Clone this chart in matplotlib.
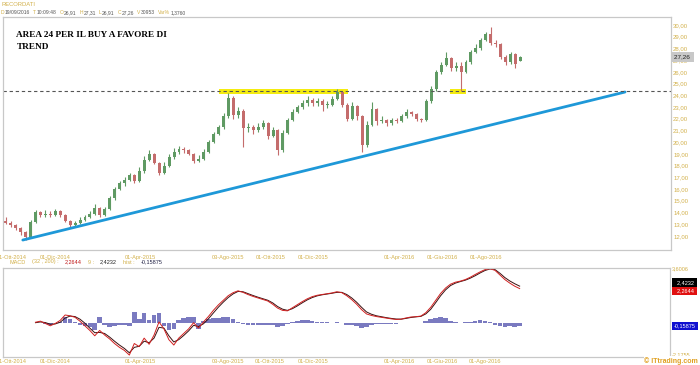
import matplotlib
matplotlib.use("Agg")
import matplotlib.pyplot as plt
import matplotlib.dates as mdates
import matplotlib.transforms as mtransforms
from matplotlib.patches import Rectangle
import numpy as np
import pandas as pd

# weekly candles, Recordati, Sep 2014 - Sep 2016
dates = pd.date_range("2014-09-22", periods=105, freq="W-MON")

opens = [13.3, 13.1, 12.9, 12.7, 12.3, 11.9, 13.2, 14.0, 13.8, 13.9,
         13.8, 14.1, 13.8, 13.3, 12.9, 13.1, 13.4, 13.6, 13.9, 14.4,
         13.8, 14.3, 15.2, 16.0, 16.5, 16.8, 17.2, 16.7, 17.5, 18.5,
         19.0, 18.2, 17.4, 18.0, 18.7, 19.2, 19.4, 19.3, 19.0, 18.4,
         18.6, 19.2, 20.0, 20.7, 21.3, 22.2, 23.8, 22.3, 22.7, 21.2,
         21.3, 21.0, 21.3, 21.6, 20.5, 21.0, 19.3, 20.8, 21.9, 22.6,
         23.0, 23.3, 23.6, 23.3, 23.5, 23.2, 23.2, 23.7, 24.3, 23.2,
         22.0, 23.1, 22.2, 19.8, 21.5, 22.8, 21.8, 21.9, 21.6, 21.9,
         21.8, 22.2, 22.6, 22.4, 22.0, 21.9, 23.5, 24.5, 26.0, 26.6,
         27.2, 26.3, 26.5, 26.0, 26.8, 27.7, 28.0, 28.7, 29.2, 28.5,
         28.4, 27.3, 26.8, 27.5, 26.91]
highs = [13.6, 13.3, 13.0, 12.8, 12.4, 13.4, 14.2, 14.1, 14.2, 14.1,
         14.3, 14.2, 13.9, 13.4, 13.3, 13.6, 13.8, 14.1, 14.7, 14.5,
         14.5, 15.4, 16.2, 16.7, 17.0, 17.4, 17.3, 17.9, 18.8, 19.3,
         19.1, 18.3, 18.3, 19.0, 19.5, 19.7, 19.6, 19.4, 19.1, 18.9,
         19.4, 20.2, 20.9, 21.5, 22.5, 24.2, 23.9, 23.0, 22.8, 21.6,
         21.5, 21.6, 21.9, 21.7, 21.3, 21.1, 21.0, 22.1, 22.8, 23.2,
         23.6, 23.9, 23.8, 23.8, 23.7, 23.5, 23.9, 24.55, 24.3, 23.3,
         23.4, 23.2, 22.3, 21.8, 23.4, 22.9, 22.2, 22.0, 22.1, 22.1,
         22.4, 22.8, 22.7, 22.5, 22.1, 23.7, 24.8, 26.2, 26.8, 27.7,
         27.3, 26.8, 26.8, 27.0, 27.9, 28.4, 28.9, 29.4, 29.8, 28.7,
         28.5, 27.4, 27.7, 27.6, 27.31]
lows = [13.0, 12.8, 12.5, 12.1, 11.65, 11.8, 13.1, 13.6, 13.6, 13.6,
        13.7, 13.6, 13.2, 12.8, 12.8, 13.0, 13.3, 13.5, 13.8, 13.6,
        13.7, 14.2, 15.1, 15.9, 16.3, 16.7, 16.5, 16.6, 17.4, 18.4,
        18.1, 17.2, 17.3, 17.9, 18.6, 19.0, 19.1, 18.9, 18.2, 18.3,
        18.5, 19.1, 19.9, 20.6, 21.1, 22.1, 22.0, 22.1, 19.6, 20.9,
        20.7, 20.9, 21.1, 20.3, 20.4, 18.9, 19.2, 20.7, 21.8, 22.5,
        22.8, 23.1, 23.1, 23.1, 22.7, 22.9, 23.1, 23.6, 23.0, 21.8,
        21.9, 21.9, 19.2, 19.6, 21.4, 21.5, 21.6, 21.4, 21.5, 21.6,
        21.7, 22.1, 22.2, 21.8, 21.7, 21.8, 23.3, 24.4, 25.8, 26.5,
        26.1, 26.1, 24.4, 25.9, 26.7, 27.6, 27.9, 28.6, 28.3, 28.1,
        27.1, 26.6, 26.7, 26.3, 26.91]
closes = [13.1, 12.9, 12.7, 12.3, 11.9, 13.2, 14.0, 13.8, 13.9, 13.8,
          14.1, 13.8, 13.3, 12.9, 13.1, 13.4, 13.6, 13.9, 14.4, 13.8,
          14.3, 15.2, 16.0, 16.5, 16.8, 17.2, 16.7, 17.5, 18.5, 19.0,
          18.2, 17.4, 18.0, 18.7, 19.2, 19.4, 19.3, 19.0, 18.4, 18.6,
          19.2, 20.0, 20.7, 21.3, 22.2, 23.8, 22.3, 22.7, 21.2, 21.3,
          21.0, 21.3, 21.6, 20.5, 21.0, 19.3, 20.8, 21.9, 22.6, 23.0,
          23.3, 23.6, 23.3, 23.5, 23.2, 23.2, 23.7, 24.3, 23.2, 22.0,
          23.1, 22.2, 19.8, 21.5, 22.8, 21.8, 21.9, 21.6, 21.9, 21.8,
          22.2, 22.6, 22.4, 22.0, 21.9, 23.5, 24.5, 26.0, 26.6, 27.2,
          26.3, 26.5, 26.0, 26.8, 27.7, 28.0, 28.7, 29.2, 28.5, 28.4,
          27.3, 26.8, 27.5, 26.7, 27.26]

nan = np.nan
macd = [nan, nan, nan, nan, nan, nan, 0.08, 0.15, 0.0, -0.15,
        0.0, 0.2, 0.55, 0.50, 0.40, 0.15, -0.15, -0.45, -0.80, -0.45,
        -0.75, -1.00, -1.30, -1.55, -1.75, -2.05, -1.30, -1.50, -0.95, -1.35,
        -0.75, 0.10, -0.35, -1.05, -1.40, -0.95, -0.65, -0.35, 0.05, -0.30,
        0.10, 0.45, 0.85, 1.20, 1.50, 1.80, 2.00, 2.12, 2.02, 1.88,
        1.76, 1.66, 1.56, 1.46, 1.25, 1.00, 0.85, 0.82, 1.02, 1.22,
        1.42, 1.60, 1.74, 1.83, 1.88, 1.93, 1.98, 2.06, 2.00, 1.80,
        1.55, 1.25, 0.90, 0.62, 0.52, 0.45, 0.40, 0.35, 0.30, 0.26,
        0.28, 0.36, 0.42, 0.44, 0.48, 0.70, 1.05, 1.50, 1.95, 2.30,
        2.55, 2.68, 2.75, 2.85, 3.00, 3.18, 3.35, 3.50, 3.55, 3.45,
        3.15, 2.85, 2.62, 2.42, 2.2644]
signal = [nan, nan, nan, nan, nan, nan, 0.05, 0.10, 0.06, -0.05,
          -0.03, 0.08, 0.35, 0.48, 0.45, 0.28, 0.02, -0.30, -0.60, -0.58,
          -0.65, -0.88, -1.15, -1.40, -1.62, -1.90, -1.55, -1.48, -1.15, -1.25,
          -0.95, -0.25, -0.30, -0.80, -1.20, -1.05, -0.78, -0.48, -0.12, -0.20,
          -0.02, 0.30, 0.68, 1.05, 1.38, 1.68, 1.92, 2.08, 2.06, 1.94,
          1.82, 1.71, 1.61, 1.51, 1.34, 1.10, 0.93, 0.85, 0.96, 1.14,
          1.34, 1.53, 1.68, 1.79, 1.86, 1.91, 1.96, 2.02, 2.02, 1.88,
          1.66, 1.38, 1.05, 0.75, 0.60, 0.50, 0.44, 0.38, 0.33, 0.29,
          0.28, 0.33, 0.39, 0.43, 0.46, 0.62, 0.92, 1.35, 1.80, 2.18,
          2.46, 2.62, 2.72, 2.81, 2.94, 3.10, 3.28, 3.44, 3.54, 3.50,
          3.26, 2.98, 2.76, 2.58, 2.4232]
hist = [nan, nan, nan, nan, nan, nan, 0.03, 0.05, -0.06, -0.10,
        0.03, 0.12, 0.40, 0.30, 0.10, -0.12, -0.18, -0.25, -0.40, 0.40,
        -0.10, -0.20, -0.15, -0.12, -0.10, -0.15, 0.75, 0.30, 0.70, 0.25,
        0.55, 0.65, -0.15, -0.40, -0.35, 0.20, 0.35, 0.40, 0.45, -0.35,
        0.15, 0.30, 0.35, 0.38, 0.40, 0.42, 0.30, 0.12, -0.05, -0.08,
        -0.10, -0.08, -0.08, -0.10, -0.12, -0.22, -0.18, -0.05, 0.10, 0.18,
        0.22, 0.20, 0.15, 0.12, 0.08, 0.07, 0.06, 0.08, 0.02, -0.08,
        -0.12, -0.18, -0.30, -0.22, -0.10, -0.06, -0.05, -0.04, -0.05, -0.04,
        0.02, 0.04, 0.05, 0.03, 0.04, 0.15, 0.28, 0.38, 0.44, 0.36,
        0.18, 0.08, 0.06, 0.08, 0.12, 0.18, 0.20, 0.18, 0.08, -0.08,
        -0.18, -0.20, -0.18, -0.20, -0.15875]

tick_dates = ["2014-10-01", "2014-12-01", "2015-04-01", "2015-08-03", "2015-10-01",
              "2015-12-01", "2016-04-01", "2016-06-01", "2016-08-01"]
tick_labels = ["01-Ott-2014", "01-Dic-2014", "01-Apr-2015", "03-Ago-2015", "01-Ott-2015",
               "01-Dic-2015", "01-Apr-2016", "01-Giu-2016", "01-Ago-2016"]
price_ticks = list(range(12, 31))

# trend line and support zone
trend_dates = ["2014-10-16", "2017-02-14"]
trend_prices = [11.65, 24.28]
support_level = 24.37
zone_low, zone_high = 24.07, 24.54
zones = [("2015-07-20", "2016-01-19"), ("2016-06-11", "2016-07-04")]

header = [("D", "19/09/2016"), ("T", "10:09:48"), ("O", "26,91"), ("H", "27,31"),
          ("L", "26,91"), ("C", "27,26"), ("V", "30953"), ("Var%", "1,3760")]

GOLD = "#d2b04a"
GRID = "#c8c8c8"
UP = "#5f9a63"
DOWN = "#c46c6c"
FONT = "Liberation Sans"

W, H = 700, 365
fig = plt.figure(figsize=(7, 3.65), dpi=100)
fig.patch.set_facecolor("white")
renderer = fig.canvas.get_renderer()


def box(x0, y0, x1, y1):
    return [x0 / W, 1 - y1 / H, (x1 - x0) / W, (y1 - y0) / H]


def ftext(x, y, s, **kw):
    kw.setdefault("family", FONT)
    kw.setdefault("va", "center")
    t = fig.text(x / W, 1 - y / H, s, **kw)
    return t.get_window_extent(renderer).x1   # right edge in px


ax = fig.add_axes(box(3, 17, 671, 250))
ax2 = fig.add_axes(box(3, 268, 670, 357))

d = mdates.date2num(dates)
o = np.array(opens)
c = np.array(closes)
cols = np.where(c >= o, UP, DOWN)

# price candles
ax.vlines(d, lows, highs, colors=cols, lw=0.8)
body = np.maximum(np.abs(c - o), 0.06)
ax.bar(d, body, bottom=np.minimum(o, c), width=4.2, color=cols, linewidth=0)

ax.plot(mdates.date2num(pd.to_datetime(trend_dates)), trend_prices,
        color="#1e98d8", lw=2.0, solid_capstyle="round")
for z0, z1 in zones:
    x0 = mdates.date2num(pd.Timestamp(z0))
    x1 = mdates.date2num(pd.Timestamp(z1))
    ax.add_patch(Rectangle((x0, zone_low), x1 - x0, zone_high - zone_low,
                           facecolor="#f4ec10", edgecolor="none", zorder=0))
ax.axhline(support_level, color="#555555", lw=0.8, dashes=(3, 2.5))

xmin = mdates.date2num(pd.Timestamp("2014-09-18"))
xmax = mdates.date2num(pd.Timestamp("2017-04-20"))
ax.set_xlim(xmin, xmax)
ax.set_ylim(10.8, 30.68)

ax.yaxis.tick_right()
ax.set_yticks(price_ticks)
ax.set_yticklabels(["%d,00" % p for p in price_ticks])
ax.tick_params(axis="y", length=0, pad=1.5, labelsize=4.3, labelcolor=GOLD)
ax.set_xticks(mdates.date2num(pd.to_datetime(tick_dates)))
ax.set_xticklabels(tick_labels)
ax.tick_params(axis="x", length=0, pad=3.5, labelsize=4.1, labelcolor=GOLD)
for lab in ax.get_xticklabels() + ax.get_yticklabels():
    lab.set_family(FONT)

# last price box
trans = mtransforms.blended_transform_factory(ax.transAxes, ax.transData)
ax.text(1.004, closes[-1], "27,26 ", transform=trans, ha="left", va="center",
        fontsize=4.6, family=FONT, color="#222222",
        bbox=dict(boxstyle="square,pad=0.35", fc="#c8c8c8", ec="none"))

ax.text(0.02, 0.915, "AREA 24 PER IL BUY A FAVORE DI", transform=ax.transAxes,
        fontsize=6.7, family="Liberation Serif", weight="bold", va="baseline")
ax.text(0.02, 0.862, "TREND", transform=ax.transAxes,
        fontsize=6.7, family="Liberation Serif", weight="bold", va="baseline")

# MACD panel
ax2.bar(d, hist, width=6.5, color="#7a7ac0", linewidth=0)
ax2.plot(d, signal, color="#3a1010", lw=0.7)
ax2.plot(d, macd, color="#d02020", lw=0.7)
ax2.set_xlim(xmin, xmax)
ax2.set_ylim(-2.1755, 3.6006)
ax2.yaxis.tick_right()
ax2.set_yticks([-2.1755, 3.6006])
ax2.set_yticklabels(["-2,1755", "3,6006"])
ax2.tick_params(axis="y", length=0, pad=1.5, labelsize=4.0, labelcolor=GOLD)
ax2.set_xticks(mdates.date2num(pd.to_datetime(tick_dates)))
ax2.set_xticklabels(tick_labels)
ax2.tick_params(axis="x", length=0, pad=1.5, labelsize=4.1, labelcolor=GOLD)
for lab in ax2.get_xticklabels() + ax2.get_yticklabels():
    lab.set_family(FONT)
ax2.get_yticklabels()[0].set_va("bottom")

trans2 = mtransforms.blended_transform_factory(ax2.transAxes, ax2.transData)
for val, txt, fc in [(2.66, "  2,4232 ", "black"), (2.12, "  2,2644 ", "#e01010"),
                     (-0.15875, "-0,15875", "#1010d0")]:
    ax2.text(1.006, val, txt, transform=trans2, ha="left", va="center",
             fontsize=4.0, family=FONT, color="white",
             bbox=dict(boxstyle="square,pad=0.3", fc=fc, ec="none"))

for a in (ax, ax2):
    for s in a.spines.values():
        s.set_color(GRID)
        s.set_linewidth(0.9)

# header lines
ftext(1, 5, "RECORDATI", fontsize=4.2, color=GOLD)
x = 0.5
for k, v in header:
    x = ftext(x, 13, k, fontsize=3.6, color=GOLD) + 0.6
    x = ftext(x, 13, v, fontsize=3.6, color="#555555") + 3

x = 10
for s, col in [("MACD", GOLD), ("(32 , 200) :", GOLD), ("2,2644", "#c01818"),
               ("9 :", GOLD), ("2,4232", "#222222"), ("hist :", GOLD),
               ("-0,15875", "#222244")]:
    x = ftext(x, 262, s, fontsize=4.0, color=col) + 6

ftext(698, 361, "\u00a9 ITtrading.com", fontsize=5, color="#e0a020",
      weight="bold", ha="right", zorder=5,
      bbox=dict(boxstyle="square,pad=0.1", fc="white", ec="none"))

fig.savefig("out.png", dpi=100, facecolor="white")
